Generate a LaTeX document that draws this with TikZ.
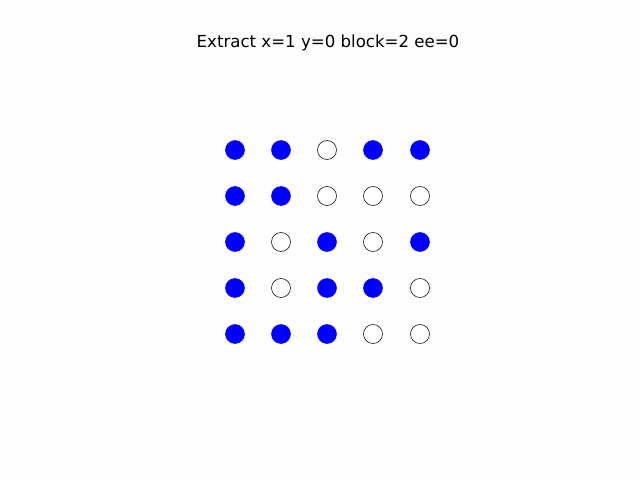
\documentclass[tikz,border=0pt]{standalone}
\usepackage{fontspec}
\setmainfont{DejaVu Sans}
\usepackage{tikz}
\definecolor{myblue}{RGB}{0,0,255}
\definecolor{mybg}{RGB}{253,253,253}
\tikzset{
  onbit/.style={circle, draw=myblue, fill=myblue, minimum size=19*0.02cm, inner sep=0pt, line width=0.3pt},
  offbit/.style={circle, draw=black, fill=white, minimum size=19*0.02cm, inner sep=0pt, line width=0.3pt},
  ttl/.style={font=\fontsize{9.45}{11}\selectfont, inner sep=0pt}
}
\begin{document}
\begin{tikzpicture}[x=0.02cm, y=-0.02cm]
  \fill[mybg] (0,0) rectangle (640,480);
  \useasboundingbox (0,0) rectangle (640,480);

  \node[ttl] (title) at (328,43) {Extract x=1 y=0 block=2 ee=0};

  % row 1
  \node[onbit]  (d11) at (235,150) {};
  \node[onbit]  (d12) at (281,150) {};
  \node[offbit] (d13) at (327,150) {};
  \node[onbit]  (d14) at (373,150) {};
  \node[onbit]  (d15) at (420,150) {};
  % row 2
  \node[onbit]  (d21) at (235,196) {};
  \node[onbit]  (d22) at (281,196) {};
  \node[offbit] (d23) at (327,196) {};
  \node[offbit] (d24) at (373,196) {};
  \node[offbit] (d25) at (420,196) {};
  % row 3
  \node[onbit]  (d31) at (235,242) {};
  \node[offbit] (d32) at (281,242) {};
  \node[onbit]  (d33) at (327,242) {};
  \node[offbit] (d34) at (373,242) {};
  \node[onbit]  (d35) at (420,242) {};
  % row 4
  \node[onbit]  (d41) at (235,288) {};
  \node[offbit] (d42) at (281,288) {};
  \node[onbit]  (d43) at (327,288) {};
  \node[onbit]  (d44) at (373,288) {};
  \node[offbit] (d45) at (420,288) {};
  % row 5
  \node[onbit]  (d51) at (235,334) {};
  \node[onbit]  (d52) at (281,334) {};
  \node[onbit]  (d53) at (327,334) {};
  \node[offbit] (d54) at (373,334) {};
  \node[offbit] (d55) at (420,334) {};

\end{tikzpicture}
\end{document}
